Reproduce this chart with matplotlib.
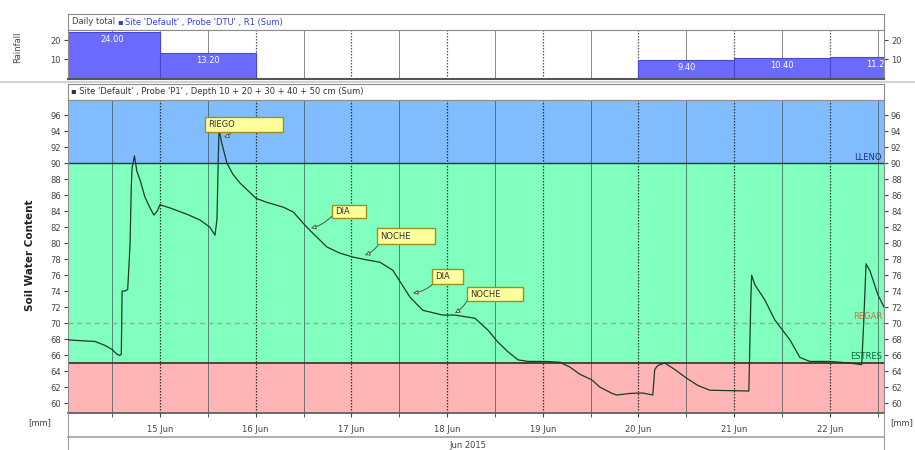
import matplotlib
matplotlib.use('Agg')
import matplotlib.pyplot as plt
import matplotlib.dates as mdates
from matplotlib.patches import Rectangle
from matplotlib.lines import Line2D
from datetime import datetime, timedelta

plt.rcParams['font.family'] = ['DejaVu Sans']

# ---------------- data ----------------
rain_days = ['2015-06-14', '2015-06-15', '2015-06-20', '2015-06-21', '2015-06-22']
rain_mm = [24.00, 13.20, 9.40, 10.40, 11.20]

# soil water content: hours since 2015-06-14 00:00, value
swc_hours = [0.93, 4.0, 7.7, 10.2, 12.0, 13.2, 13.9, 14.3, 14.5, 15.2, 15.9, 16.2, 16.5,
             16.8, 17.0, 17.6, 18.2, 19.0, 20.2, 21.5, 22.5, 23.3, 24.0, 26.5, 30.8,
             34.0, 36.5, 37.8, 38.3, 38.6, 38.8, 39.5, 40.8, 42.3, 44.1, 48.1, 50.8,
             54.9, 57.4, 59.9, 61.6, 65.9, 69.1, 72.4, 75.9, 79.2, 82.4, 86.7, 89.9,
             94.9, 98.0, 103.0, 106.3, 108.8, 111.3, 113.8, 116.3, 120.5, 124.3, 126.8,
             129.3, 132.3, 134.3, 137.4, 138.6, 141.9, 145.1, 147.6, 148.1, 148.9, 150.6,
             153.1, 156.1, 158.9, 161.9, 166.9, 171.7, 172.2, 172.4, 173.2, 175.7, 178.2,
             182.0, 184.5, 187.0, 192.0, 197.0, 200.0, 200.5, 201.1, 202.1, 204.1, 205.6]
swc_values = [67.9, 67.8, 67.7, 67.2, 66.7, 66.1, 65.95, 66.1, 74.0, 74.0, 74.2, 77.0, 80.0,
              87.0, 89.4, 90.9, 89.0, 87.9, 85.8, 84.4, 83.5, 84.0, 84.8, 84.4, 83.6,
              82.9, 82.0, 81.0, 83.0, 90.0, 94.2, 92.5, 90.0, 88.6, 87.5, 85.6, 85.1,
              84.5, 83.9, 82.5, 81.6, 79.5, 78.75, 78.25, 77.9, 77.6, 76.6, 73.25, 71.6,
              71.0, 71.0, 70.6, 69.1, 67.6, 66.4, 65.4, 65.2, 65.2, 65.1, 64.5,
              63.6, 62.9, 62.0, 61.2, 61.0, 61.2, 61.25, 61.0, 64.2, 64.7, 65.0,
              64.2, 63.1, 62.2, 61.6, 61.55, 61.5, 73.0, 76.0, 74.8, 72.9, 70.4,
              67.9, 65.7, 65.2, 65.2, 65.0, 64.8, 70.0, 77.4, 76.5, 73.5, 72.0]

lleno, regar, estres = 90, 70, 65
threshold_names = ['LLENO', 'REGAR', 'ESTRES']

annot_labels = ['RIEGO', 'DIA', 'NOCHE', 'DIA', 'NOCHE']
annot_tip_h = [40.05, 61.87, 75.41, 87.45, 97.98]
annot_tip_v = [93.25, 81.875, 78.5, 73.75, 71.25]

x_tick_labels = ['15 Jun', '16 Jun', '17 Jun', '18 Jun', '19 Jun', '20 Jun', '21 Jun', '22 Jun']
month_label = 'Jun 2015'

# ---------------- layout helpers ----------------
W, H = 915, 450
fig = plt.figure(figsize=(9.15, 4.5), dpi=100)
fig.patch.set_facecolor('white')


def rect(x0, y0, x1, y1):
    return [x0 / W, 1 - y1 / H, (x1 - x0) / W, (y1 - y0) / H]


def fx(px):
    return (px - 68) / 816.0


base = datetime(2015, 6, 14)


def t(h):
    return mdates.date2num(base + timedelta(hours=h))


X0, X1 = 0.93, 205.6
xl = (t(X0), t(X1))
GRAY = '#8c8c8c'
TXT = '#444444'
FS = 6

# separator line between panels
fig.add_artist(Line2D([0, 1], [1 - 82 / H, 1 - 82 / H], color='#c8c8c8', lw=1.2))

# ---------------- top (rain) panel ----------------
axh1 = fig.add_axes(rect(68, 14, 884, 30))
axh1.set_xticks([]); axh1.set_yticks([])
for s in axh1.spines.values():
    s.set_color(GRAY); s.set_linewidth(0.8)
axh1.text(fx(72), 0.5, 'Daily total', transform=axh1.transAxes, fontsize=FS, color=TXT, va='center')
axh1.text(fx(117), 0.5, '\u25aa', transform=axh1.transAxes, fontsize=FS, color='#3344cc', va='center')
axh1.text(fx(125), 0.5, "Site 'Default' , Probe 'DTU' , R1 (Sum)", transform=axh1.transAxes,
          fontsize=FS, color='#3344cc', va='center')

axr = fig.add_axes(rect(68, 30, 884, 79))
rx = [mdates.date2num(datetime.strptime(d, '%Y-%m-%d')) for d in rain_days]
axr.bar(rx, rain_mm, width=1.0, align='edge', color='#6b6bff', edgecolor='#4848c8', lw=0.8, zorder=2)
for xx, v in zip(rx, rain_mm):
    axr.text(xx + 0.5, v - 3.9, f'{v:.2f}', ha='center', va='center', fontsize=FS,
             color='white', zorder=3, clip_on=True)
axr.set_xlim(xl)
axr.set_ylim(-0.5, 25.3)
axr.set_yticks([10, 20])
axr.tick_params(axis='y', which='both', direction='out', length=3, labelsize=FS, colors=TXT,
                labelleft=True, labelright=True, left=True, right=True, pad=2)
axr.set_xticks([])
for s in axr.spines.values():
    s.set_color(GRAY); s.set_linewidth(0.8)
axr.spines['bottom'].set_color('#555555')
axr.spines['bottom'].set_linewidth(1.5)
for k in range(0, 10):
    axr.axvline(t(24 * k), color='#555555', lw=0.9, ls=(0, (1.2, 1.2)), zorder=1)
    axr.axvline(t(24 * k + 12), color='#777777', lw=0.6, zorder=1)
fig.text(18 / W, 1 - 47 / H, 'Rainfall', rotation=90, ha='center', va='center', fontsize=FS, color=TXT)

# ---------------- main panel ----------------
axh2 = fig.add_axes(rect(68, 84, 884, 100))
axh2.set_xticks([]); axh2.set_yticks([])
for s in axh2.spines.values():
    s.set_color(GRAY); s.set_linewidth(0.8)
axh2.text(fx(71), 0.5, "\u25aa Site 'Default' , Probe 'P1' , Depth 10 + 20 + 30 + 40 + 50 cm (Sum)",
          transform=axh2.transAxes, fontsize=FS, color='#333333', va='center')

ax = fig.add_axes(rect(68, 100, 884, 413))
YB, YT = 58.75, 97.9
ax.set_xlim(xl)
ax.set_ylim(YB, YT)
ax.axhspan(lleno, YT, color='#80bcff', zorder=0, lw=0)
ax.axhspan(estres, lleno, color='#80ffbf', zorder=0, lw=0)
ax.axhspan(YB, estres, color='#ffb4b6', zorder=0, lw=0)
for k in range(0, 10):
    ax.axvline(t(24 * k), color='#2a3a30', lw=0.9, ls=(0, (1.2, 1.2)), zorder=1)
    ax.axvline(t(24 * k + 12), color='#3a5050', lw=0.6, zorder=1, alpha=0.8)
ax.axhline(lleno, color='#1d3a40', lw=1.0, zorder=2)
ax.axhline(regar, color='#c89a5a', lw=0.9, ls=(0, (4, 3)), zorder=2)
ax.axhline(estres, color='#3a2a2a', lw=1.2, zorder=2)
ax.text(t(X1) - 0.02, lleno + 0.2, threshold_names[0], ha='right', va='bottom', fontsize=FS,
        color='#1c2e8a', zorder=3)
ax.text(t(X1) - 0.02, regar + 0.2, threshold_names[1], ha='right', va='bottom', fontsize=FS,
        color='#c07840', zorder=3)
ax.text(t(X1) - 0.02, estres + 0.2, threshold_names[2], ha='right', va='bottom', fontsize=FS,
        color='#0a6a3a', zorder=3)

ax.plot([t(h) for h in swc_hours], swc_values, color='#1e3a26', lw=0.9, zorder=4)

# callouts (box layout in hours / value units)
box_left = [35.28, 67.13, 78.42, 92.22, 100.99]
box_right = [54.86, 75.66, 92.97, 100.0, 115.03]
box_bot = [93.875, 83.125, 79.875, 74.875, 72.75]
box_top = [95.75, 84.75, 81.875, 76.75, 74.5]
arr_start_h = [42.05, 67.13, 78.92, 92.47, 101.24]
arr_start_v = [93.9, 83.375, 79.875, 74.875, 73.0]
for i, lab in enumerate(annot_labels):
    ax.annotate('', xy=(t(annot_tip_h[i]), annot_tip_v[i]),
                xytext=(t(arr_start_h[i]), arr_start_v[i]),
                arrowprops=dict(arrowstyle='-|>', fc='white', ec='#4a5a3a', lw=0.7,
                                mutation_scale=7, shrinkA=0, shrinkB=0,
                                connectionstyle='arc3,rad=-0.15'), zorder=5)
    r = Rectangle((t(box_left[i]), box_bot[i]), t(box_right[i]) - t(box_left[i]),
                  box_top[i] - box_bot[i], facecolor='#ffff9c', edgecolor='#9c9020', lw=1.0, zorder=6)
    ax.add_patch(r)
    ax.text(t(box_left[i] + 0.9), (box_bot[i] + box_top[i]) / 2, lab, fontsize=FS, color='#333333',
            ha='left', va='center', zorder=7)

ax.set_yticks(range(60, 97, 2))
ax.tick_params(axis='y', direction='out', length=3, labelsize=FS, colors=TXT,
               labelleft=True, labelright=True, left=True, right=True, pad=2)
ax.xaxis.set_minor_locator(mdates.HourLocator(byhour=[12]))
day_ticks = [t(24 * (k + 1)) for k in range(len(x_tick_labels))]
ax.set_xticks(day_ticks)
ax.set_xticklabels(x_tick_labels)
ax.tick_params(axis='x', which='both', direction='out', length=3, labelsize=FS, colors=TXT, pad=6)
for s in ax.spines.values():
    s.set_color(GRAY); s.set_linewidth(0.8)
ax.spines['bottom'].set_color('#555555')
ax.spines['bottom'].set_linewidth(1.2)

fig.text(30 / W, 1 - 255 / H, 'Soil Water Content', rotation=90, ha='center', va='center',
         fontsize=7.5, fontweight='bold', color='#222222')
fig.text(40 / W, 1 - 423 / H, '[mm]', ha='center', va='center', fontsize=FS, color=TXT)
fig.text(913 / W, 1 - 423 / H, '[mm]', ha='right', va='center', fontsize=FS, color=TXT)

# bottom strips
fig.add_artist(Line2D([68 / W, 884 / W], [1 - 437 / H, 1 - 437 / H], color='#a0a0a0', lw=1.2))
fig.add_artist(Line2D([68 / W, 68 / W], [1 - 413 / H, 0], color='#a0a0a0', lw=0.8))
fig.add_artist(Line2D([884 / W, 884 / W], [1 - 413 / H, 0], color='#a0a0a0', lw=0.8))
fig.text(468 / W, 1 - 446 / H, month_label, ha='center', va='center', fontsize=FS, color=TXT)

fig.savefig('out.png', dpi=100, facecolor='white')
